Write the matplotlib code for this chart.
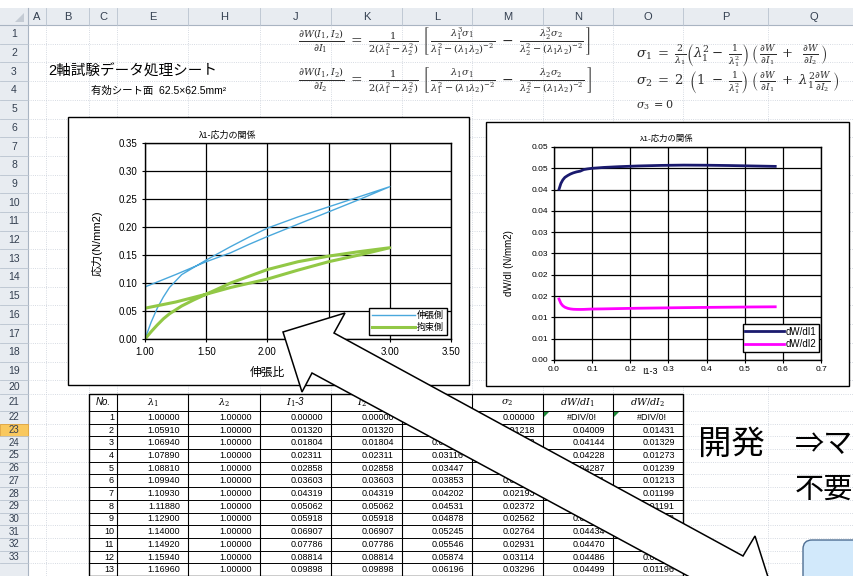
import matplotlib.pyplot as plt
from matplotlib.patches import Rectangle, Polygon, FancyBboxPatch

plt.rcParams['font.family'] = ['Liberation Sans', 'Noto Sans CJK JP']
plt.rcParams['mathtext.fontset'] = 'dejavuserif'

W, H = 854, 576

# sheet layout in screen pixels
col_names = ['A', 'B', 'C', 'E', 'H', 'J', 'K', 'L', 'M', 'N', 'O', 'P', 'Q']
col_edges = [28, 46, 89, 117, 188, 260, 331, 402, 472, 543, 613, 683, 768, 860]
row_heights = [18.7] * 19 + [13.7, 17.0] + [12.7] * 13
sheet_top = 25

# table values (rows 1-13)
no = list(range(1, 14))
lam1 = [1.00000, 1.05910, 1.06940, 1.07890, 1.08810, 1.09940, 1.10930,
        1.11880, 1.12900, 1.14000, 1.14920, 1.15940, 1.16960]
lam2 = [1.00000] * 13
i1_3 = [0.00000, 0.01320, 0.01804, 0.02311, 0.02858, 0.03603, 0.04319,
        0.05062, 0.05918, 0.06907, 0.07786, 0.08814, 0.09898]
i2_3 = [0.00000, 0.01320, 0.01804, 0.02311, 0.02858, 0.03603, 0.04319,
        0.05062, 0.05918, 0.06907, 0.07786, 0.08814, 0.09898]
sigma1 = [0.00000, 0.02274, 0.02692, 0.03116, 0.03447, 0.03853, 0.04202,
          0.04531, 0.04878, 0.05245, 0.05546, 0.05874, 0.06196]
sigma2 = [0.00000, 0.01218, 0.01452, 0.01647, 0.01832, 0.02012, 0.02193,
          0.02372, 0.02562, 0.02764, 0.02931, 0.03114, 0.03296]
dwdi1 = [None, 0.04009, 0.04144, 0.04228, 0.04287, 0.04331, 0.04366,
         0.04393, 0.04416, 0.04434, 0.04470, 0.04486, 0.04499]
dwdi2 = [None, 0.01431, 0.01329, 0.01273, 0.01239, 0.01213, 0.01199,
         0.01191, 0.01188, 0.01187, 0.01188, 0.01192, 0.01196]
headers = ['No.', r'$\lambda_1$', r'$\lambda_2$', r'$I_1$-3', r'$I_2$-3',
           r'$\sigma_1$', r'$\sigma_2$', r'$dW/dI_1$', r'$dW/dI_2$']

# chart 1: stretch ratio vs stress (loading then unloading)
lam_t = [1.00, 1.05, 1.10, 1.15, 1.20, 1.30, 1.40, 1.50, 1.60, 1.70, 1.85, 2.00,
         2.25, 2.50, 2.75, 3.00, 2.75, 2.50, 2.25, 2.00, 1.85, 1.70, 1.50, 1.25, 1.00]
sig_t = [0.000, 0.030, 0.055, 0.075, 0.092, 0.115, 0.128, 0.141, 0.153, 0.165, 0.182, 0.198,
         0.218, 0.236, 0.254, 0.272, 0.249, 0.227, 0.205, 0.183, 0.169, 0.154, 0.138, 0.115, 0.093]
lam_c = [1.00, 1.05, 1.10, 1.15, 1.20, 1.30, 1.40, 1.50, 1.70, 2.00, 2.25, 2.50, 2.75,
         3.00, 2.75, 2.50, 2.25, 2.00, 1.70, 1.50, 1.25, 1.00]
sig_c = [0.000, 0.013, 0.025, 0.036, 0.045, 0.059, 0.070, 0.080, 0.100, 0.124, 0.138, 0.148, 0.156,
         0.163, 0.150, 0.138, 0.123, 0.107, 0.092, 0.080, 0.066, 0.055]

# chart 2: I1-3 vs dW/dI1, dW/dI2 (table rows plus the rest of the curve)
x2 = i1_3[1:] + [0.13, 0.17, 0.22, 0.28, 0.34, 0.40, 0.46, 0.52, 0.58]
y2_a = dwdi1[1:] + [0.04520, 0.04538, 0.04555, 0.04568, 0.04575, 0.04572, 0.04565, 0.04555, 0.04545]
y2_b = dwdi2[1:] + [0.01200, 0.01207, 0.01215, 0.01222, 0.01229, 0.01235, 0.01240, 0.01245, 0.01249]
y2_ticks = [0, 0.005, 0.01, 0.015, 0.02, 0.025, 0.03, 0.035, 0.04, 0.045, 0.05]
y2_labels = ['0.00', '0.01', '0.01', '0.02', '0.02', '0.03', '0.03', '0.04', '0.04', '0.05', '0.05']


def fig_rect(x0, y0, x1, y1):
    return [x0 / W, 1 - y1 / H, (x1 - x0) / W, (y1 - y0) / H]


fig = plt.figure(figsize=(W / 100, H / 100), dpi=100)
base = fig.add_axes([0, 0, 1, 1])
base.set_xlim(0, W)
base.set_ylim(H, 0)
base.axis('off')

row_edges = [sheet_top]
for h in row_heights:
    row_edges.append(row_edges[-1] + h)

# cell grid
for x in col_edges:
    base.plot([x, x], [sheet_top, H], color='#C9CFD9', lw=0.6, ls=':', zorder=1)
for y in row_edges:
    base.plot([28, W], [y, y], color='#C9CFD9', lw=0.6, ls=':', zorder=1)

# column / row headers
base.add_patch(Rectangle((0, 8), W, sheet_top - 8, fc='#E8ECF1', ec='none', zorder=2))
base.add_patch(Rectangle((0, sheet_top), 28, H - sheet_top, fc='#E8ECF1', ec='none', zorder=2))
base.plot([0, W], [sheet_top, sheet_top], color='#A9B4C2', lw=0.8, zorder=2)
base.plot([28, 28], [8, H], color='#A9B4C2', lw=0.8, zorder=2)
for i, name in enumerate(col_names):
    x0, x1 = col_edges[i], col_edges[i + 1]
    base.plot([x1, x1], [8, sheet_top], color='#B9C3CF', lw=0.6, zorder=2)
    base.text((x0 + x1) / 2, 16.5, name, ha='center', va='center', fontsize=8, color='#333F50', zorder=3)
base.add_patch(Polygon([(24, 22), (24, 13), (15, 22)], closed=True, fc='#C4CBD4', ec='none', zorder=3))
for r in range(33):
    y0, y1 = row_edges[r], row_edges[r + 1]
    if r == 22:
        base.add_patch(Rectangle((0, y0), 28, y1 - y0, fc='#F9C85E', ec='#E2A43A', lw=0.6, zorder=2))
    base.plot([0, 28], [y1, y1], color='#B9C3CF', lw=0.6, zorder=2)
    base.text(14, (y0 + y1) / 2, str(r + 1), ha='center', va='center',
              fontsize=7 if r >= 20 else 7.5, color='#333F50', zorder=3)

# titles on the sheet
base.text(48, 72, '2軸試験データ処理シート', fontsize=10.5, va='center', zorder=4)
base.text(91, 91, '有効シート面  62.5×62.5mm²', fontsize=7.5, va='center', zorder=4)

eq_color = '#2E2E2E'
f1 = (r'$\frac{\partial W(I_1,I_2)}{\partial I_1}\;=\;\frac{1}{2(\lambda_1^2-\lambda_2^2)}\;'
      r'\left[\,\frac{\lambda_1^3\sigma_1}{\lambda_1^2-(\lambda_1\lambda_2)^{-2}}\;-\;'
      r'\frac{\lambda_2^3\sigma_2}{\lambda_2^2-(\lambda_1\lambda_2)^{-2}}\,\right]$')
f2 = (r'$\frac{\partial W(I_1,I_2)}{\partial I_2}\;=\;\frac{1}{2(\lambda_1^2-\lambda_2^2)}\;'
      r'\left[\,\frac{\lambda_1\sigma_1}{\lambda_1^2-(\lambda_1\lambda_2)^{-2}}\;-\;'
      r'\frac{\lambda_2\sigma_2}{\lambda_2^2-(\lambda_1\lambda_2)^{-2}}\,\right]$')
f3 = (r'$\sigma_1\;=\;\frac{2}{\lambda_1}\left(\lambda_1^2-\;\frac{1}{\lambda_1^2}\right)\;'
      r'\left(\,\frac{\partial W}{\partial I_1}\;+\;\;\frac{\partial W}{\partial I_2}\,\right)$')
f4 = (r'$\sigma_2\;=\;2\;\;\left(1\;-\;\frac{1}{\lambda_1^2}\right)\;'
      r'\left(\,\frac{\partial W}{\partial I_1}\;+\;\lambda_1^2\frac{\partial W}{\partial I_2}\,\right)$')
f5 = r'$\sigma_3\;=0$'
base.text(298, 42, f1, fontsize=10, va='center', color=eq_color, zorder=4)
base.text(298, 81, f2, fontsize=10, va='center', color=eq_color, zorder=4)
base.text(636, 56, f3, fontsize=9.5, va='center', color=eq_color, zorder=4)
base.text(636, 83, f4, fontsize=9.5, va='center', color=eq_color, zorder=4)
base.text(636, 105, f5, fontsize=8, va='center', color=eq_color, zorder=4)

# data table
tcols = col_edges[2:12]
columns = [no, lam1, lam2, i1_3, i2_3, sigma1, sigma2, dwdi1, dwdi2]
t_top = row_edges[20]
t_bot = row_edges[34]
base.add_patch(Rectangle((tcols[0], t_top), tcols[-1] - tcols[0], t_bot - t_top,
                         fc='white', ec='black', lw=1, zorder=3))
for x in tcols[1:-1]:
    base.plot([x, x], [t_top, t_bot], color='black', lw=0.8, zorder=3)
for y in row_edges[21:34]:
    base.plot([tcols[0], tcols[-1]], [y, y], color='black', lw=0.7, zorder=3)
hy = (row_edges[20] + row_edges[21]) / 2
for c, label in enumerate(headers):
    base.text((tcols[c] + tcols[c + 1]) / 2, hy, label, ha='center', va='center',
              fontsize=7, style='italic', zorder=4)
for r in range(13):
    yc = (row_edges[21 + r] + row_edges[22 + r]) / 2
    for c, col in enumerate(columns):
        v = col[r]
        if c == 0:
            base.text(tcols[1] - 3, yc, str(v), ha='right', va='center', fontsize=6.5, zorder=4)
        elif v is None:
            base.text((tcols[c] + tcols[c + 1]) / 2 + 4, yc, '#DIV/0!', ha='center', va='center',
                      fontsize=6.5, zorder=4)
        else:
            base.text(tcols[c + 1] - 8, yc, f'{v:.5f}', ha='right', va='center', fontsize=6.5, zorder=4)
for x in (tcols[7], tcols[8]):
    y0 = row_edges[21]
    base.add_patch(Polygon([(x + 1, y0 + 1), (x + 6, y0 + 1), (x + 1, y0 + 6)], closed=True,
                           fc='#1E8B3A', ec='none', zorder=5))

# big note on the right
base.text(698, 445, '開発', fontsize=24, va='center', zorder=4)
base.text(795, 445, '⇒マ', fontsize=21, va='center', zorder=4)
base.text(795, 490, '不要', fontsize=21, va='center', zorder=4)
base.add_patch(FancyBboxPatch((803, 540), 100, 60, boxstyle='round,pad=0,rounding_size=9',
                              fc='#D2E9FB', ec='#4E6E93', lw=1, zorder=4))

# chart frames
base.add_patch(Rectangle((68, 117), 401, 268, fc='white', ec='black', lw=1, zorder=3))
base.add_patch(Rectangle((486, 122), 363, 264, fc='white', ec='black', lw=1, zorder=3))

# chart 1
ax1 = fig.add_axes(fig_rect(145, 143, 451, 339))
ax1.plot(lam_t, sig_t, color='#4AA8DC', lw=1, label='伸張側')
ax1.plot(lam_c, sig_c, color='#92C846', lw=2.2, label='拘束側')
ax1.set_xlim(1, 3.5)
ax1.set_ylim(0, 0.35)
ax1.set_xticks([1.0, 1.5, 2.0, 2.5, 3.0, 3.5])
ax1.set_xticklabels(['1.00', '1.50', '2.00', '2.50', '3.00', '3.50'])
ax1.set_yticks([0, 0.05, 0.10, 0.15, 0.20, 0.25, 0.30, 0.35])
ax1.set_yticklabels(['0.00', '0.05', '0.10', '0.15', '0.20', '0.25', '0.30', '0.35'])
ax1.grid(True, color='black', lw=0.9)
ax1.tick_params(labelsize=7, length=2.5, pad=3, width=0.8)
for s in ax1.spines.values():
    s.set_color('black')
    s.set_linewidth(1)
leg1 = ax1.legend(loc='lower right', bbox_to_anchor=(0.987, 0.02), fontsize=6.5, fancybox=False,
                  edgecolor='black', framealpha=1, handlelength=4.8, borderpad=0.35,
                  labelspacing=0.3, handletextpad=0.2, borderaxespad=0)
leg1.get_frame().set_linewidth(1)
base.text(228, 135, 'λ1-応力の関係', fontsize=6.5, ha='center', va='center', zorder=4)
base.text(97, 243, '応力(N/mm2)', fontsize=8, rotation=90, ha='center', va='center', zorder=4)
base.text(267, 373, '伸張比', fontsize=8.5, ha='center', va='center', zorder=4)

# chart 2
ax2 = fig.add_axes(fig_rect(554, 147, 821, 360))
ax2.plot(x2, y2_a, color='#1A1A6E', lw=2, label='dW/dI1')
ax2.plot(x2, y2_b, color='#FF00FF', lw=2, label='dW/dI2')
ax2.set_xlim(0, 0.7)
ax2.set_ylim(0, 0.05)
ax2.set_xticks([0, 0.1, 0.2, 0.3, 0.4, 0.5, 0.6, 0.7])
ax2.set_xticklabels(['0.0', '0.1', '0.2', '0.3', '0.4', '0.5', '0.6', '0.7'])
ax2.set_yticks(y2_ticks)
ax2.set_yticklabels(y2_labels)
ax2.grid(True, color='black', lw=0.9)
ax2.tick_params(labelsize=6, length=2, pad=2.5, width=0.8)
for s in ax2.spines.values():
    s.set_color('black')
    s.set_linewidth(1)
leg2 = ax2.legend(loc='lower right', bbox_to_anchor=(0.9925, 0.038), fontsize=7, fancybox=False,
                  edgecolor='black', framealpha=1, handlelength=4.0, borderpad=0.3,
                  labelspacing=0.25, handletextpad=0.1, borderaxespad=0)
leg2.get_frame().set_linewidth(1)
base.text(667, 139, 'λ1-応力の関係', fontsize=6, ha='center', va='center', zorder=4)
base.text(509, 263, 'dW/dI (N/mm2)', fontsize=7, rotation=90, ha='center', va='center', zorder=4)
base.text(650, 371, 'I1-3', fontsize=6.5, ha='center', va='center', zorder=4)

# double-headed block arrow drawn over everything
top = fig.add_axes([0, 0, 1, 1], zorder=10)
top.set_xlim(0, W)
top.set_ylim(H, 0)
top.axis('off')
arrow_pts = [(345, 313), (334, 333), (743, 556), (755, 536), (774, 596),
             (712, 615), (723, 595), (312, 373), (302, 392), (283, 332)]
top.add_patch(Polygon(arrow_pts, closed=True, fc='white', ec='black', lw=1.1))

fig.savefig('out.png', dpi=100)
